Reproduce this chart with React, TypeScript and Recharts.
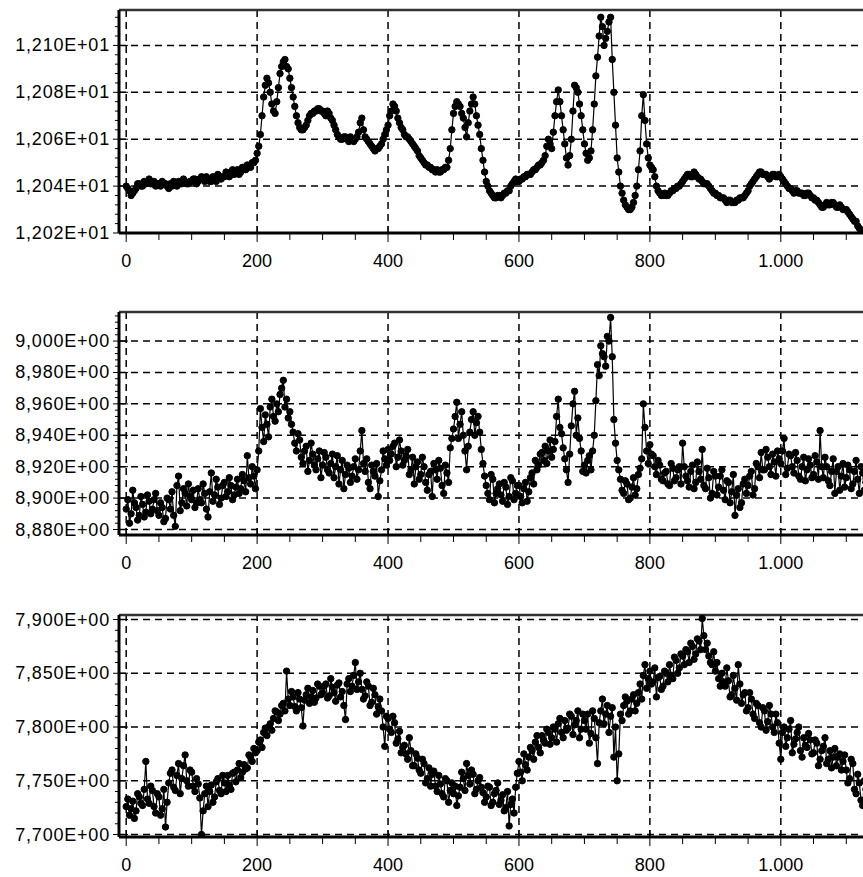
import React from 'react';
import { LineChart, Line, XAxis, YAxis, ReferenceLine } from 'recharts';

// the readings are taken every 5 units, plus a second pass in between (x + 2.5)
const sampleX = Array.from({ length: 229 }, (_, i) => i * 5);
const sampleXb = sampleX.map((x) => x + 2.5);

const series1 = [
  12.040, 12.038, 12.037, 12.039, 12.041, 12.040, 12.041, 12.043, 12.041, 12.040,
  12.041, 12.042, 12.041, 12.039, 12.040, 12.041, 12.042, 12.041, 12.042, 12.041,
  12.042, 12.043, 12.042, 12.044, 12.042, 12.043, 12.042, 12.043, 12.045, 12.043,
  12.044, 12.045, 12.046, 12.045, 12.047, 12.046, 12.048, 12.049, 12.048, 12.050,
  12.054, 12.062, 12.078, 12.086, 12.080, 12.072, 12.076, 12.088, 12.093, 12.091,
  12.086, 12.078, 12.070, 12.065, 12.064, 12.066, 12.070, 12.071, 12.072, 12.073,
  12.072, 12.070, 12.071, 12.068, 12.064, 12.061, 12.060, 12.061, 12.059, 12.060,
  12.060, 12.063, 12.069, 12.061, 12.059, 12.057, 12.055, 12.056, 12.058, 12.062,
  12.066, 12.072, 12.074, 12.069, 12.065, 12.062, 12.061, 12.059, 12.057, 12.055,
  12.052, 12.050, 12.049, 12.048, 12.047, 12.047, 12.046, 12.047, 12.048, 12.056,
  12.071, 12.076, 12.074, 12.069, 12.061, 12.072, 12.078, 12.070, 12.062, 12.051,
  12.042, 12.038, 12.036, 12.035, 12.036, 12.036, 12.037, 12.038, 12.041, 12.043,
  12.042, 12.043, 12.044, 12.045, 12.046, 12.047, 12.049, 12.050, 12.053, 12.060,
  12.056, 12.070, 12.081, 12.070, 12.058, 12.049, 12.060, 12.083, 12.080, 12.070,
  12.058, 12.051, 12.055, 12.075, 12.095, 12.112, 12.100, 12.106, 12.112, 12.080,
  12.052, 12.040, 12.034, 12.031, 12.030, 12.033, 12.040, 12.055, 12.079, 12.058,
  12.049, 12.047, 12.040, 12.037, 12.036, 12.036, 12.037, 12.038, 12.039, 12.040,
  12.042, 12.044, 12.045, 12.044, 12.045, 12.043, 12.042, 12.041, 12.040, 12.038,
  12.037, 12.036, 12.035, 12.034, 12.034, 12.033, 12.033, 12.034, 12.035, 12.036,
  12.038, 12.041, 12.043, 12.045, 12.046, 12.045, 12.044, 12.044, 12.045, 12.044,
  12.044, 12.042, 12.040, 12.039, 12.037, 12.038, 12.037, 12.036, 12.037, 12.036,
  12.035, 12.034, 12.032, 12.031, 12.033, 12.032, 12.033, 12.031, 12.032, 12.030,
  12.030, 12.028, 12.026, 12.025, 12.022, 12.021, 12.019, 12.018, 12.017,
];
const series1b = [
  12.039, 12.036, 12.038, 12.041, 12.040, 12.042, 12.042, 12.041, 12.042, 12.041,
  12.040, 12.041, 12.040, 12.041, 12.042, 12.040, 12.041, 12.043, 12.041, 12.042,
  12.043, 12.041, 12.043, 12.043, 12.044, 12.042, 12.044, 12.042, 12.044, 12.044,
  12.046, 12.044, 12.047, 12.046, 12.045, 12.048, 12.047, 12.048, 12.050, 12.051,
  12.057, 12.070, 12.083, 12.084, 12.075, 12.071, 12.082, 12.091, 12.094, 12.090,
  12.082, 12.074, 12.067, 12.064, 12.065, 12.068, 12.071, 12.072, 12.073, 12.072,
  12.071, 12.072, 12.069, 12.066, 12.062, 12.060, 12.061, 12.060, 12.061, 12.059,
  12.061, 12.067, 12.064, 12.060, 12.058, 12.056, 12.056, 12.057, 12.060, 12.064,
  12.070, 12.075, 12.072, 12.067, 12.064, 12.061, 12.060, 12.058, 12.056, 12.053,
  12.051, 12.049, 12.048, 12.047, 12.046, 12.046, 12.047, 12.048, 12.051, 12.064,
  12.074, 12.075, 12.071, 12.065, 12.067, 12.075, 12.075, 12.066, 12.056, 12.046,
  12.040, 12.037, 12.035, 12.036, 12.035, 12.037, 12.038, 12.040, 12.042, 12.042,
  12.043, 12.044, 12.045, 12.045, 12.047, 12.048, 12.049, 12.051, 12.057, 12.058,
  12.063, 12.076, 12.076, 12.064, 12.052, 12.053, 12.072, 12.082, 12.075, 12.064,
  12.054, 12.052, 12.064, 12.087, 12.104, 12.108, 12.103, 12.110, 12.094, 12.066,
  12.046, 12.037, 12.032, 12.030, 12.031, 12.036, 12.047, 12.070, 12.068, 12.052,
  12.048, 12.044, 12.038, 12.036, 12.037, 12.036, 12.038, 12.039, 12.040, 12.041,
  12.043, 12.045, 12.044, 12.046, 12.044, 12.043, 12.041, 12.041, 12.039, 12.037,
  12.036, 12.035, 12.035, 12.033, 12.034, 12.033, 12.034, 12.035, 12.035, 12.037,
  12.040, 12.042, 12.044, 12.046, 12.045, 12.045, 12.043, 12.045, 12.044, 12.045,
  12.043, 12.041, 12.039, 12.038, 12.038, 12.037, 12.037, 12.036, 12.037, 12.035,
  12.034, 12.033, 12.031, 12.032, 12.032, 12.033, 12.032, 12.031, 12.031, 12.030,
  12.029, 12.027, 12.025, 12.023, 12.021, 12.020, 12.018, 12.017, 12.016,
];

const series2 = [
  8.893, 8.884, 8.905, 8.894, 8.889, 8.896, 8.891, 8.898, 8.893, 8.903,
  8.889, 8.894, 8.887, 8.899, 8.904, 8.882, 8.914, 8.897, 8.903, 8.909,
  8.899, 8.894, 8.906, 8.897, 8.903, 8.888, 8.916, 8.902, 8.907, 8.900,
  8.910, 8.904, 8.908, 8.902, 8.912, 8.906, 8.911, 8.927, 8.909, 8.914,
  8.918, 8.957, 8.936, 8.947, 8.958, 8.952, 8.960, 8.966, 8.975, 8.963,
  8.955, 8.942, 8.930, 8.937, 8.922, 8.933, 8.924, 8.928, 8.918, 8.930,
  8.921, 8.926, 8.916, 8.928, 8.920, 8.909, 8.924, 8.915, 8.919, 8.914,
  8.925, 8.918, 8.943, 8.917, 8.910, 8.921, 8.914, 8.901, 8.918, 8.925,
  8.931, 8.928, 8.935, 8.926, 8.930, 8.924, 8.931, 8.918, 8.909, 8.923,
  8.915, 8.920, 8.905, 8.917, 8.922, 8.912, 8.919, 8.903, 8.916, 8.932,
  8.944, 8.961, 8.947, 8.940, 8.918, 8.942, 8.955, 8.948, 8.942, 8.922,
  8.908, 8.899, 8.912, 8.903, 8.909, 8.898, 8.907, 8.901, 8.911, 8.903,
  8.908, 8.897, 8.910, 8.904, 8.916, 8.924, 8.921, 8.929, 8.933, 8.930,
  8.926, 8.936, 8.963, 8.941, 8.925, 8.910, 8.946, 8.968, 8.951, 8.930,
  8.921, 8.924, 8.918, 8.940, 8.985, 8.997, 8.990, 9.003, 9.015, 8.950,
  8.924, 8.912, 8.903, 8.909, 8.900, 8.913, 8.906, 8.919, 8.960, 8.930,
  8.934, 8.927, 8.915, 8.921, 8.911, 8.917, 8.908, 8.919, 8.913, 8.920,
  8.935, 8.914, 8.907, 8.921, 8.910, 8.917, 8.931, 8.906, 8.913, 8.903,
  8.914, 8.907, 8.918, 8.899, 8.910, 8.904, 8.889, 8.906, 8.897, 8.912,
  8.908, 8.917, 8.906, 8.920, 8.929, 8.918, 8.926, 8.915, 8.923, 8.930,
  8.922, 8.938, 8.919, 8.927, 8.916, 8.924, 8.912, 8.926, 8.918, 8.921,
  8.915, 8.923, 8.943, 8.913, 8.920, 8.908, 8.925, 8.917, 8.905, 8.922,
  8.913, 8.918, 8.909, 8.924, 8.903, 8.916, 8.910, 8.919, 8.912,
];
const series2b = [
  8.899, 8.890, 8.897, 8.886, 8.901, 8.888, 8.902, 8.890, 8.899, 8.892,
  8.897, 8.885, 8.900, 8.893, 8.889, 8.908, 8.892, 8.906, 8.895, 8.901,
  8.905, 8.897, 8.899, 8.909, 8.893, 8.904, 8.898, 8.912, 8.896, 8.908,
  8.901, 8.913, 8.899, 8.907, 8.903, 8.915, 8.904, 8.913, 8.920, 8.906,
  8.930, 8.945, 8.953, 8.939, 8.963, 8.949, 8.955, 8.970, 8.958, 8.951,
  8.947, 8.935, 8.941, 8.926, 8.930, 8.917, 8.935, 8.921, 8.925, 8.913,
  8.929, 8.918, 8.922, 8.913, 8.927, 8.918, 8.906, 8.921, 8.910, 8.920,
  8.912, 8.930, 8.922, 8.925, 8.906, 8.917, 8.922, 8.911, 8.930, 8.921,
  8.924, 8.933, 8.920, 8.937, 8.921, 8.927, 8.915, 8.926, 8.920, 8.912,
  8.926, 8.910, 8.915, 8.901, 8.918, 8.924, 8.908, 8.921, 8.910, 8.938,
  8.952, 8.938, 8.955, 8.930, 8.933, 8.950, 8.940, 8.952, 8.931, 8.914,
  8.903, 8.915, 8.897, 8.906, 8.902, 8.910, 8.896, 8.913, 8.899, 8.908,
  8.901, 8.906, 8.898, 8.913, 8.909, 8.918, 8.928, 8.924, 8.922, 8.937,
  8.931, 8.952, 8.945, 8.932, 8.918, 8.928, 8.960, 8.940, 8.938, 8.917,
  8.916, 8.927, 8.930, 8.962, 8.978, 8.992, 8.984, 9.000, 8.990, 8.935,
  8.918, 8.905, 8.911, 8.899, 8.907, 8.902, 8.915, 8.925, 8.945, 8.922,
  8.928, 8.920, 8.924, 8.912, 8.916, 8.909, 8.922, 8.911, 8.918, 8.909,
  8.920, 8.911, 8.917, 8.906, 8.923, 8.912, 8.908, 8.919, 8.900, 8.917,
  8.902, 8.914, 8.905, 8.911, 8.897, 8.915, 8.902, 8.894, 8.909, 8.903,
  8.914, 8.902, 8.922, 8.913, 8.918, 8.931, 8.920, 8.928, 8.914, 8.925,
  8.930, 8.915, 8.928, 8.920, 8.929, 8.914, 8.920, 8.911, 8.925, 8.913,
  8.927, 8.912, 8.920, 8.926, 8.911, 8.917, 8.903, 8.920, 8.914, 8.907,
  8.921, 8.906, 8.917, 8.912, 8.920, 8.905, 8.914, 8.922, 8.909,
];

const series3 = [
  7.726, 7.718, 7.731, 7.722, 7.735, 7.727, 7.768, 7.729, 7.741, 7.720,
  7.735, 7.724, 7.707, 7.748, 7.760, 7.741, 7.766, 7.752, 7.774, 7.745,
  7.758, 7.740, 7.747, 7.700, 7.738, 7.726, 7.746, 7.735, 7.752, 7.738,
  7.748, 7.755, 7.742, 7.758, 7.760, 7.753, 7.765, 7.762, 7.772, 7.780,
  7.778, 7.788, 7.795, 7.792, 7.803, 7.808, 7.814, 7.812, 7.822, 7.852,
  7.820, 7.828, 7.815, 7.826, 7.801, 7.830, 7.822, 7.834, 7.827, 7.838,
  7.832, 7.840, 7.829, 7.837, 7.824, 7.841, 7.833, 7.807, 7.845, 7.838,
  7.860, 7.842, 7.835, 7.829, 7.838, 7.823, 7.830, 7.819, 7.815, 7.782,
  7.808, 7.795, 7.804, 7.789, 7.776, 7.783, 7.770, 7.778, 7.764, 7.771,
  7.757, 7.766, 7.752, 7.745, 7.759, 7.740, 7.747, 7.735, 7.750, 7.741,
  7.738, 7.727, 7.744, 7.752, 7.766, 7.747, 7.756, 7.742, 7.753, 7.739,
  7.735, 7.744, 7.730, 7.741, 7.728, 7.737, 7.725, 7.708, 7.733, 7.744,
  7.768, 7.750, 7.765, 7.772, 7.778, 7.786, 7.781, 7.792, 7.785, 7.795,
  7.790, 7.798, 7.803, 7.795, 7.806, 7.799, 7.810, 7.802, 7.815, 7.798,
  7.806, 7.812, 7.794, 7.808, 7.766, 7.815, 7.803, 7.820, 7.810, 7.772,
  7.750, 7.812, 7.820, 7.824, 7.815, 7.830, 7.822, 7.840, 7.848, 7.836,
  7.852, 7.842, 7.828, 7.847, 7.838, 7.850, 7.858, 7.845, 7.862, 7.855,
  7.866, 7.872, 7.860, 7.875, 7.868, 7.880, 7.901, 7.872, 7.866, 7.858,
  7.852, 7.845, 7.850, 7.838, 7.843, 7.830, 7.836, 7.858, 7.822, 7.832,
  7.818, 7.826, 7.808, 7.820, 7.800, 7.815, 7.805, 7.812, 7.795, 7.804,
  7.770, 7.800, 7.790, 7.806, 7.784, 7.795, 7.778, 7.790, 7.781, 7.788,
  7.776, 7.785, 7.770, 7.782, 7.766, 7.778, 7.772, 7.764, 7.775, 7.768,
  7.760, 7.752, 7.766, 7.738, 7.748, 7.727, 7.742, 7.735, 7.730,
];
const series3b = [
  7.733, 7.724, 7.715, 7.738, 7.729, 7.742, 7.733, 7.745, 7.726, 7.738,
  7.718, 7.742, 7.730, 7.757, 7.744, 7.755, 7.738, 7.764, 7.750, 7.760,
  7.745, 7.752, 7.734, 7.722, 7.745, 7.740, 7.730, 7.749, 7.741, 7.755,
  7.740, 7.746, 7.757, 7.749, 7.766, 7.758, 7.761, 7.774, 7.768, 7.776,
  7.786, 7.781, 7.799, 7.800, 7.797, 7.815, 7.806, 7.820, 7.815, 7.826,
  7.833, 7.819, 7.832, 7.818, 7.825, 7.836, 7.828, 7.823, 7.840, 7.830,
  7.838, 7.827, 7.845, 7.832, 7.839, 7.828, 7.820, 7.840, 7.833, 7.848,
  7.835, 7.850, 7.826, 7.842, 7.820, 7.836, 7.812, 7.826, 7.800, 7.810,
  7.798, 7.810, 7.785, 7.796, 7.781, 7.775, 7.790, 7.764, 7.775, 7.760,
  7.770, 7.748, 7.762, 7.756, 7.745, 7.755, 7.738, 7.752, 7.730, 7.748,
  7.745, 7.736, 7.758, 7.741, 7.755, 7.760, 7.738, 7.750, 7.744, 7.730,
  7.745, 7.727, 7.738, 7.748, 7.732, 7.722, 7.740, 7.728, 7.720, 7.757,
  7.758, 7.775, 7.760, 7.781, 7.770, 7.792, 7.776, 7.788, 7.798, 7.784,
  7.800, 7.786, 7.808, 7.790, 7.797, 7.812, 7.793, 7.806, 7.790, 7.812,
  7.798, 7.785, 7.815, 7.790, 7.804, 7.826, 7.812, 7.795, 7.818, 7.800,
  7.775, 7.806, 7.828, 7.812, 7.826, 7.815, 7.832, 7.826, 7.858, 7.845,
  7.840, 7.855, 7.846, 7.835, 7.852, 7.842, 7.848, 7.865, 7.850, 7.868,
  7.858, 7.870, 7.878, 7.863, 7.882, 7.872, 7.885, 7.878, 7.860, 7.870,
  7.860, 7.838, 7.842, 7.855, 7.828, 7.848, 7.825, 7.840, 7.830, 7.815,
  7.832, 7.812, 7.822, 7.804, 7.818, 7.797, 7.820, 7.800, 7.812, 7.785,
  7.795, 7.782, 7.798, 7.776, 7.789, 7.800, 7.772, 7.783, 7.794, 7.775,
  7.788, 7.764, 7.778, 7.790, 7.770, 7.762, 7.780, 7.772, 7.760, 7.774,
  7.748, 7.770, 7.742, 7.756, 7.732, 7.750, 7.738, 7.725, 7.740,
];

const xTicks = [0, 50, 100, 150, 200, 250, 300, 350, 400, 450, 500, 550, 600, 650, 700, 750, 800, 850, 900, 950, 1000, 1050, 1100];
const xLabelValues = [0, 200, 400, 600, 800, 1000];
const xLabels = ['0', '200', '400', '600', '800', '1.000'];

const yMajors1 = [12.02, 12.04, 12.06, 12.08, 12.10];
const yLabels1 = ['1,202E+01', '1,204E+01', '1,206E+01', '1,208E+01', '1,210E+01'];
const yMajors2 = [8.88, 8.9, 8.92, 8.94, 8.96, 8.98, 9.0];
const yLabels2 = ['8,880E+00', '8,900E+00', '8,920E+00', '8,940E+00', '8,960E+00', '8,980E+00', '9,000E+00'];
const yMajors3 = [7.7, 7.75, 7.8, 7.85, 7.9];
const yLabels3 = ['7,700E+00', '7,750E+00', '7,800E+00', '7,850E+00', '7,900E+00'];

const FONT = "'Liberation Sans', Arial, sans-serif";
const X_DOMAIN: [number, number] = [-11, 1150];
const AXIS_W = 119;
const CHART_W = 879;
const MARGIN_TOP = 4;
const X_AXIS_H = 45;
const GRID = '#000';

const XTick = (props: any) => {
  const { x, y, payload } = props;
  const idx = xLabelValues.indexOf(payload.value);
  if (idx < 0) {
    return <line x1={x} x2={x} y1={y + 1} y2={y + 7} stroke="#000" strokeWidth={1} />;
  }
  return (
    <g>
      <line x1={x} x2={x} y1={y - 7} y2={y + 9} stroke="#000" strokeWidth={1} />
      <text x={x} y={y + 28} textAnchor="middle" dominantBaseline="central" fontFamily={FONT} fontSize={18} fill="#000">
        {xLabels[idx]}
      </text>
    </g>
  );
};

const makeYTick = (majors: number[], labels: string[]) => (props: any) => {
  const { x, y, payload } = props;
  const idx = majors.findIndex((m) => Math.abs(m - payload.value) < 1e-6);
  if (idx < 0) {
    return <line x1={x - 4} x2={x} y1={y} y2={y} stroke="#000" strokeWidth={1} />;
  }
  return (
    <g>
      <line x1={x - 6} x2={x + 9} y1={y} y2={y} stroke="#000" strokeWidth={1} />
      <text x={x - 9} y={y} textAnchor="end" dominantBaseline="central" fontFamily={FONT} fontSize={18} letterSpacing={0.8} fill="#000">
        {labels[idx]}
      </text>
    </g>
  );
};

interface PanelProps {
  plotTop: number;
  plotHeight: number;
  values: number[];
  valuesB: number[];
  domain: [number, number];
  majors: number[];
  labels: string[];
  minorStep: number;
}

const Panel: React.FC<PanelProps> = ({ plotTop, plotHeight, values, valuesB, domain, majors, labels, minorStep }) => {
  const rows: { x: number; v: number }[] = [];
  sampleX.forEach((x, i) => {
    rows.push({ x, v: values[i] });
    rows.push({ x: sampleXb[i], v: valuesB[i] });
  });
  const yTicks: number[] = [];
  const k0 = Math.ceil(domain[0] / minorStep - 1e-6);
  const k1 = Math.floor(domain[1] / minorStep + 1e-6);
  for (let k = k0; k <= k1; k++) yTicks.push(Number((k * minorStep).toFixed(4)));

  return (
    <div style={{ position: 'absolute', left: 0, top: plotTop - MARGIN_TOP }}>
      <LineChart
        width={CHART_W}
        height={MARGIN_TOP + plotHeight + X_AXIS_H}
        data={rows}
        margin={{ top: MARGIN_TOP, right: 0, bottom: 0, left: 0 }}
      >
        <XAxis
          dataKey="x"
          type="number"
          domain={X_DOMAIN}
          ticks={xTicks}
          interval={0}
          allowDataOverflow
          height={X_AXIS_H}
          tickSize={0}
          tickMargin={0}
          tickLine={false}
          axisLine={{ stroke: '#000', strokeWidth: 3 }}
          tick={XTick}
        />
        <YAxis
          type="number"
          domain={domain}
          ticks={yTicks}
          interval={0}
          allowDataOverflow
          width={AXIS_W}
          tickSize={0}
          tickMargin={0}
          tickLine={false}
          axisLine={{ stroke: '#000', strokeWidth: 3 }}
          tick={makeYTick(majors, labels)}
        />
        {xLabelValues.map((v) => (
          <ReferenceLine key={'gx' + v} x={v} stroke={GRID} strokeWidth={1.5} strokeDasharray="7 5" />
        ))}
        {majors.map((v) => (
          <ReferenceLine key={'gy' + v} y={v} stroke={GRID} strokeWidth={1.5} strokeDasharray="7 5" />
        ))}
        <ReferenceLine y={domain[1]} stroke="#333" strokeWidth={2.5} />
        <Line
          type="linear"
          dataKey="v"
          stroke="#000"
          strokeWidth={1.2}
          dot={{ r: 3.2, fill: '#000', stroke: '#000', strokeWidth: 1 }}
          isAnimationActive={false}
        />
      </LineChart>
    </div>
  );
};

export default function App() {
  return (
    <div style={{ position: 'absolute', left: 0, top: 0, width: 863, height: 877, overflow: 'hidden', background: '#fff' }}>
      <Panel plotTop={10} plotHeight={223} values={series1} valuesB={series1b} domain={[12.02, 12.1151]} majors={yMajors1} labels={yLabels1} minorStep={0.004} />
      <Panel plotTop={312} plotHeight={223} values={series2} valuesB={series2b} domain={[8.8765, 9.0185]} majors={yMajors2} labels={yLabels2} minorStep={0.004} />
      <Panel plotTop={615} plotHeight={222} values={series3} valuesB={series3b} domain={[7.6977, 7.9042]} majors={yMajors3} labels={yLabels3} minorStep={0.01} />
    </div>
  );
}
